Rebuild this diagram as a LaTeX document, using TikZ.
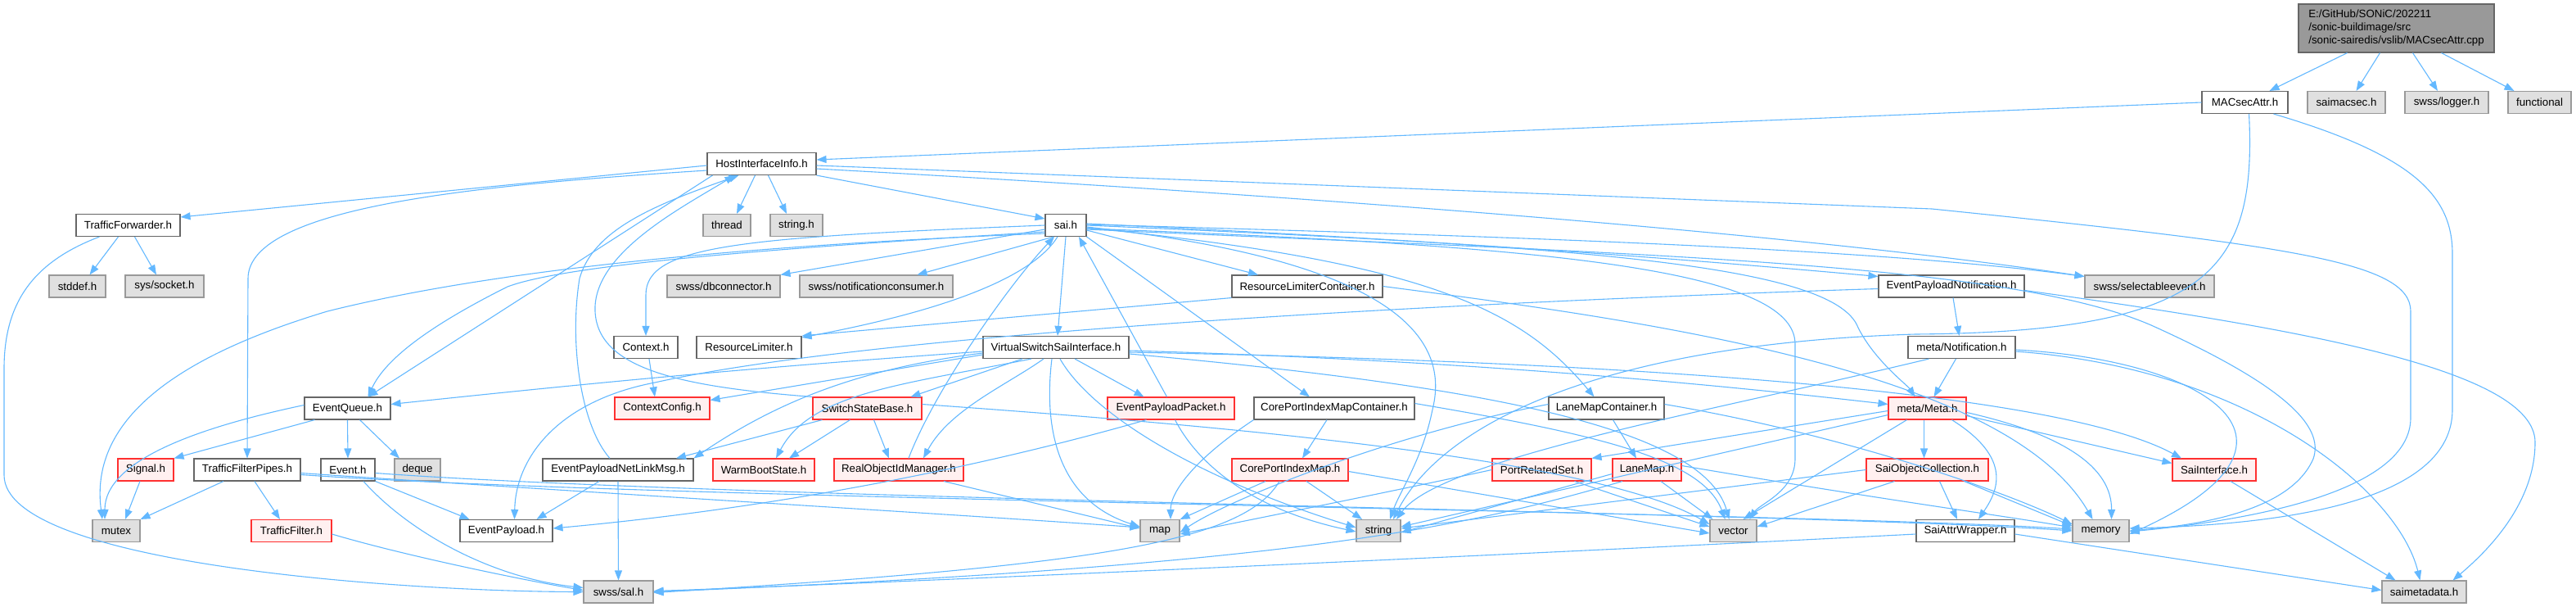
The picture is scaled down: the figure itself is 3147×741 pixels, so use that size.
\documentclass[tikz,border=0pt]{standalone}
\usepackage{fontspec}
\setmainfont{Liberation Sans}
\usetikzlibrary{arrows.meta}
\definecolor{edgec}{HTML}{63B8FF}
\definecolor{redb}{HTML}{FF3030}
\definecolor{redf}{HTML}{FFF0F0}
\definecolor{grayf}{HTML}{E0E0E0}
\definecolor{grayb}{HTML}{999999}
\definecolor{mainf}{HTML}{999999}
\definecolor{docb}{HTML}{666666}
\tikzset{
  base/.style={rectangle, inner sep=0pt, minimum height=27pt, font=\fontsize{13.3}{16}\selectfont, line width=1.1pt},
  doc/.style={base, draw=docb, fill=white},
  trunc/.style={base, draw=redb, fill=redf},
  sys/.style={base, draw=grayb, fill=grayf},
  mainn/.style={base, draw=docb, fill=mainf, align=left, minimum height=59pt},
  dep/.style={draw=edgec, line width=1.1pt, -{Triangle[length=12pt,width=9pt]}},
}
\begin{document}
\begin{tikzpicture}[x=1pt,y=-1pt]
\useasboundingbox (0,0) rectangle (3147,741);
% ---------- nodes ----------
\node[mainn, minimum width=239pt] (M) at (2927.5,34.5) {E:/GitHub/SONiC/202211\\/sonic-buildimage/src\\/sonic-sairedis/vslib/MACsecAttr.cpp};
\node[doc, minimum width=105pt] (MA) at (2742.5,125) {MACsecAttr.h};
\node[sys, minimum width=95pt] (SM) at (2866.5,125) {saimacsec.h};
\node[sys, minimum width=102pt] (LG) at (2989,125) {swss/logger.h};
\node[sys, minimum width=77pt] (FN) at (3102.5,125) {functional};
\node[doc, minimum width=133pt] (HI) at (930.5,200) {HostInterfaceInfo.h};
\node[doc, minimum width=127pt] (TF) at (156.5,275) {TrafficForwarder.h};
\node[sys, minimum width=58pt] (TH) at (888,275) {thread};
\node[sys, minimum width=64pt] (SH) at (973,275) {string.h};
\node[doc, minimum width=50pt] (SAI) at (1302,275) {sai.h};
\node[sys, minimum width=69pt] (SD) at (94.5,349.5) {stddef.h};
\node[sys, minimum width=96pt] (SS) at (201,349.5) {sys/socket.h};
\node[sys, minimum width=138pt] (DB) at (884,349.5) {swss/dbconnector.h};
\node[sys, minimum width=187pt] (NC) at (1070.5,349.5) {swss/notificationconsumer.h};
\node[doc, minimum width=184pt] (RLC) at (1597,349.5) {ResourceLimiterContainer.h};
\node[doc, minimum width=178pt] (EPN) at (2384,349.5) {EventPayloadNotification.h};
\node[sys, minimum width=158pt] (SE) at (2626,349.5) {swss/selectableevent.h};
\node[doc, minimum width=78pt] (CX) at (789,424) {Context.h};
\node[doc, minimum width=128pt] (RL) at (915,424) {ResourceLimiter.h};
\node[doc, minimum width=178pt] (VS) at (1290,424) {VirtualSwitchSaiInterface.h};
\node[doc, minimum width=131pt] (MN) at (2396.5,424) {meta/Notification.h};
\node[doc, minimum width=105pt] (EQ) at (424.5,498.5) {EventQueue.h};
\node[trunc, minimum width=116pt] (CC) at (809,498.5) {ContextConfig.h};
\node[trunc, minimum width=133pt] (SSB) at (1059.5,498.5) {SwitchStateBase.h};
\node[trunc, minimum width=155pt] (EPP) at (1430.5,498.5) {EventPayloadPacket.h};
\node[doc, minimum width=196pt] (CPC) at (1630,498.5) {CorePortIndexMapContainer.h};
\node[doc, minimum width=141pt] (LMC) at (1962.5,498.5) {LaneMapContainer.h};
\node[trunc, minimum width=95pt] (MM) at (2354.5,498.5) {meta/Meta.h};
\node[trunc, minimum width=68pt] (SG) at (178,573.5) {Signal.h};
\node[doc, minimum width=130pt] (TFP) at (302,573.5) {TrafficFilterPipes.h};
\node[doc, minimum width=66pt] (EV) at (425,573.5) {Event.h};
\node[sys, minimum width=56pt] (DQ) at (510,573.5) {deque};
\node[doc, minimum width=184pt] (EPNL) at (755,573.5) {EventPayloadNetLinkMsg.h};
\node[trunc, minimum width=124pt] (WB) at (933,573.5) {WarmBootState.h};
\node[trunc, minimum width=158pt] (ROM) at (1098,573.5) {RealObjectIdManager.h};
\node[trunc, minimum width=142pt] (CPM) at (1576,573.5) {CorePortIndexMap.h};
\node[trunc, minimum width=121pt] (PRS) at (1883.5,573.5) {PortRelatedSet.h};
\node[trunc, minimum width=84pt] (LM) at (2012,573.5) {LaneMap.h};
\node[trunc, minimum width=149pt] (SOC) at (2354.5,573.5) {SaiObjectCollection.h};
\node[trunc, minimum width=102pt] (SI) at (2705,573.5) {SaiInterface.h};
\node[sys, minimum width=58pt] (MX) at (142,648) {mutex};
\node[trunc, minimum width=98pt] (TFL) at (356,648) {TrafficFilter.h};
\node[doc, minimum width=113pt] (EP) at (618.5,648) {EventPayload.h};
\node[sys, minimum width=48pt] (MAP) at (1417,648) {map};
\node[sys, minimum width=54pt] (STR) at (1684,648) {string};
\node[sys, minimum width=57pt] (VEC) at (2117.5,648) {vector};
\node[doc, minimum width=120pt] (SAW) at (2401,648) {SaiAttrWrapper.h};
\node[sys, minimum width=69pt] (MEM) at (2566.5,648) {memory};
\node[sys, minimum width=85pt] (SAL) at (755.5,722.5) {swss/sal.h};
\node[sys, minimum width=103pt] (SMD) at (2961.5,722.5) {saimetadata.h};
% ---------- edges ----------
\draw[dep] ([xshift=-60pt]M.south) -- ([xshift=30pt]MA.north);
\draw[dep] ([xshift=-20pt]M.south) -- ([xshift=12pt]SM.north);
\draw[dep] ([xshift=20pt]M.south) -- ([xshift=-11pt]LG.north);
\draw[dep] ([xshift=55pt]M.south) -- ([xshift=-31pt]FN.north);
% MACsecAttr.h
\draw[dep] (MA.west) -- ([yshift=5pt]HI.east);
\draw[dep] ([xshift=5pt]MA.south) .. controls (2757,330) and (2700,405) .. (2340,408) .. controls (1950,420) and (1760,520) .. ([xshift=18pt]STR.north);
\draw[dep] ([xshift=35pt]MA.south) .. controls (2950,190) and (2996,240) .. (2996,310) -- (2996,500) .. controls (2996,610) and (2800,640) .. ([yshift=3pt]MEM.east);
% HostInterfaceInfo.h
\draw[dep] ([yshift=-2pt]HI.west) -- ([yshift=10pt]TF.east);
\draw[dep] ([yshift=-8pt]HI.west) .. controls (600,225) and (303,250) .. (303,340) -- (TFP.north);
\draw[dep] ([xshift=-8pt]HI.south) -- ([xshift=12pt]TH.north);
\draw[dep] ([xshift=8pt]HI.south) -- ([xshift=-12pt]SH.north);
\draw[dep] (HI.south east) -- ([yshift=8pt]SAI.west);
\draw[dep] ([yshift=-2pt]HI.east) -- (2360,255) .. controls (2800,300) and (2945,320) .. (2945,380) -- (2945,510) .. controls (2945,600) and (2750,635) .. ([yshift=-1pt]MEM.east);
\draw[dep] ([yshift=-6pt]HI.east) .. controls (1800,250) and (2300,300) .. ([yshift=12pt]SE.west);
\draw[dep] ([xshift=-60pt]HI.south) -- ([xshift=25pt]EQ.north);
% includes of HostInterfaceInfo.h from below
\draw[dep] (SSB.north west) .. controls (830,472) and (730,450) .. (727,380) .. controls (724,310) and (830,255) .. ([xshift=-33pt]HI.south);
\draw[dep] ([xshift=-10pt]EPNL.north) .. controls (710,520) and (695,420) .. (708,340) .. controls (725,280) and (800,250) .. ([xshift=-28pt]HI.south);
% TrafficForwarder.h
\draw[dep] ([xshift=-12pt]TF.south) -- ([xshift=15pt]SD.north);
\draw[dep] ([xshift=8pt]TF.south) -- ([xshift=-10pt]SS.north);
\draw[dep] ([xshift=-35pt]TF.south) .. controls (40,320) and (5,370) .. (5,450) -- (5,580) .. controls (5,690) and (500,722) .. (SAL.west);
% sai.h
\draw[dep] ([yshift=-5pt]SAI.west) -- (DB.north east);
\draw[dep] ([xshift=-15pt]SAI.south) -- ([xshift=50pt]NC.north);
\draw[dep] (SAI.west) .. controls (900,290) and (789,300) .. (789,360) -- (CX.north);
\draw[dep] ([xshift=-10pt]SAI.south) .. controls (1260,340) and (1150,380) .. ([yshift=12pt]RL.east);
\draw[dep] (SAI.south) -- ([xshift=2pt]VS.north);
\draw[dep] ([yshift=-6pt]SAI.east) -- ([xshift=-60pt]RLC.north);
\draw[dep] ([yshift=2pt]SAI.east) .. controls (1800,295) and (2100,320) .. ([yshift=12pt]EPN.west);
\draw[dep] ([yshift=1pt]SAI.east) .. controls (1900,290) and (2300,305) .. ([yshift=12pt]SE.west);
\draw[dep] (SAI.east) .. controls (1900,300) and (2240,320) .. (2270,400) .. controls (2290,440) and (2330,470) .. ([xshift=-15pt]MM.north);
\draw[dep] ([yshift=-3pt]SAI.east) .. controls (1750,320) and (1860,380) .. ([xshift=-15pt]LMC.north);
\draw[dep] ([yshift=-2pt]SAI.east) .. controls (1720,320) and (1770,420) .. (1750,500) .. controls (1738,560) and (1710,600) .. ([xshift=14pt]STR.north);
\draw[dep] (SAI.south east) -- ([xshift=-30pt]CPC.north);
\draw[dep] ([yshift=-4pt]SAI.east) .. controls (1900,300) and (2193,330) .. (2193,420) -- (2193,560) .. controls (2193,600) and (2150,615) .. ([xshift=20pt]VEC.north);
\draw[dep] ([yshift=-5pt]SAI.east) .. controls (2000,310) and (2450,320) .. (2628,397) .. controls (2790,470) and (2840,520) .. (2826,560) .. controls (2800,620) and (2700,640) .. (MEM.east);
\draw[dep] ([yshift=-8pt]SAI.west) .. controls (1000,300) and (700,320) .. (620,350) .. controls (520,400) and (470,440) .. ([xshift=25pt]EQ.north);
\draw[dep] ([yshift=-10pt]SAI.west) .. controls (900,300) and (600,330) .. (400,380) .. controls (200,440) and (110,520) .. ([xshift=-17pt]MX.north);
% VirtualSwitchSaiInterface.h
\draw[dep] ([yshift=-9pt]VS.west) -- ([yshift=10pt]CC.east);
\draw[dep] ([xshift=-41pt]VS.south) -- ([xshift=53pt]SSB.north);
\draw[dep] ([xshift=23pt]VS.south) -- ([xshift=-33pt]EPP.north);
\draw[dep] ([xshift=-15pt]VS.south) .. controls (1230,470) and (1160,500) .. ([xshift=30pt]ROM.north);
\draw[dep] ([xshift=-5pt]VS.south) .. controls (1275,520) and (1290,610) .. ([yshift=5pt]MAP.west);
\draw[dep] ([xshift=5pt]VS.south) .. controls (1330,500) and (1450,580) .. ([yshift=4pt]STR.west);
\draw[dep] ([yshift=-5pt]VS.west) .. controls (900,450) and (700,470) .. ([yshift=5pt]EQ.east);
\draw[dep] ([yshift=-7pt]VS.west) .. controls (1050,450) and (950,490) .. (EPNL.north east);
\draw[dep] ([xshift=-30pt]VS.south) .. controls (1100,470) and (990,480) .. ([xshift=15pt]WB.north);
\draw[dep] ([yshift=-4pt]VS.east) .. controls (1800,440) and (2100,470) .. ([yshift=5pt]MM.west);
\draw[dep] ([yshift=-6pt]VS.east) .. controls (1900,440) and (2500,470) .. ([xshift=-40pt]SI.north);
\draw[dep] ([yshift=-8pt]VS.east) .. controls (1800,470) and (2080,520) .. ([xshift=-5pt]VEC.north);
% ResourceLimiterContainer.h
\draw[dep] (RLC.south west) -- (RL.north east);
\draw[dep] (RLC.east) .. controls (2000,390) and (2450,450) .. ([xshift=-10pt]MEM.north);
% Context.h
\draw[dep] ([xshift=4pt]CX.south) -- ([xshift=-9pt]CC.north);
% EventPayloadNotification.h
\draw[dep] ([xshift=2pt]EPN.south) -- ([xshift=-3pt]MN.north);
\draw[dep] ([yshift=-5pt]EPN.east) .. controls (2800,400) and (3097,450) .. (3097,540) .. controls (3097,620) and (3030,680) .. ([xshift=35pt]SMD.north);
\draw[dep] ([yshift=-3pt]EPN.west) .. controls (1900,365) and (1100,400) .. (800,467) .. controls (680,490) and (630,560) .. ([xshift=10pt]EP.north);
% meta/Notification.h
\draw[dep] ([xshift=-7pt]MN.south) -- ([xshift=8pt]MM.north);
\draw[dep] ([xshift=-40pt]MN.south) .. controls (2100,500) and (1760,560) .. ([xshift=22pt]STR.north);
\draw[dep] ([yshift=-3pt]MN.east) .. controls (2700,440) and (2850,540) .. ([yshift=-4pt]MEM.east);
\draw[dep] ([yshift=-5pt]MN.east) .. controls (2750,450) and (2930,600) .. ([xshift=-5pt]SMD.north);
% meta/Meta.h
\draw[dep] ([yshift=-3pt]MM.west) -- (PRS.north east);
\draw[dep] ([xshift=-4pt]MM.south) -- ([xshift=-4pt]SOC.north);
\draw[dep] ([xshift=30pt]MM.south) .. controls (2460,560) and (2440,600) .. ([xshift=16pt]SAW.north);
\draw[dep] ([yshift=-5pt]MM.east) .. controls (2520,530) and (2580,570) .. ([xshift=13pt]MEM.north);
\draw[dep] ([yshift=-9pt]MM.east) -- ([yshift=8pt]SI.west);
\draw[dep] ([xshift=-25pt]MM.south) -- ([xshift=12pt]VEC.north);
\draw[dep] ([yshift=-8pt]MM.west) -- ([yshift=5pt]STR.east);
% SaiObjectCollection.h
\draw[dep] ([xshift=15pt]SOC.south) -- ([xshift=-10pt]SAW.north);
\draw[dep] ([xshift=45pt]SOC.south) -- ([yshift=6pt]MEM.west);
\draw[dep] ([xshift=-40pt]SOC.south) -- ([yshift=5pt]VEC.east);
\draw[dep] (SOC.west) -- ([yshift=3pt]STR.east);
% SaiInterface.h, SaiAttrWrapper.h
\draw[dep] ([xshift=20pt]SI.south) -- ([xshift=-35pt]SMD.north);
\draw[dep] ([yshift=-4pt]SAW.east) -- ([yshift=2pt]SMD.west);
\draw[dep] ([yshift=-4pt]SAW.west) .. controls (1800,680) and (1000,715) .. ([yshift=1pt]SAL.east);
% LaneMapContainer.h, LaneMap.h
\draw[dep] ([xshift=8pt]LMC.south) -- ([xshift=-13pt]LM.north);
\draw[dep] ([yshift=5pt]LMC.west) .. controls (1700,530) and (1500,610) .. ([yshift=-2pt]MAP.east);
\draw[dep] ([yshift=5pt]LMC.east) .. controls (2250,530) and (2450,600) .. ([yshift=8pt]MEM.west);
\draw[dep] ([yshift=-5pt]LM.west) -- ([yshift=-2pt]STR.east);
\draw[dep] ([xshift=17pt]LM.south) -- ([xshift=-25pt]VEC.north);
\draw[dep] ([yshift=5pt]LM.east) .. controls (2300,610) and (2450,630) .. ([yshift=4pt]MEM.west);
\draw[dep] ([xshift=-30pt]LM.south) .. controls (1800,640) and (1600,690) .. (SAL.east);
% PortRelatedSet.h
\draw[dep] ([xshift=40pt]PRS.south) -- ([yshift=5pt]VEC.west);
\draw[dep] (PRS.west) .. controls (1700,600) and (1550,630) .. ([yshift=-4pt]MAP.east);
% CorePortIndexMapContainer.h, CorePortIndexMap.h
\draw[dep] ([xshift=-9pt]CPC.south) -- ([xshift=15pt]CPM.north);
\draw[dep] (CPC.south west) .. controls (1460,560) and (1430,600) .. ([xshift=13pt]MAP.north);
\draw[dep] ([yshift=6pt]CPC.east) .. controls (1950,530) and (2080,560) .. ([xshift=-10pt]VEC.north);
\draw[dep] ([xshift=20pt]CPM.south) -- ([xshift=-20pt]STR.north);
\draw[dep] ([xshift=-30pt]CPM.south) -- (MAP.north east);
\draw[dep] ([yshift=-2pt]CPM.east) -- ([yshift=-3pt]VEC.west);
\draw[dep] ([xshift=-13pt]CPM.south) .. controls (1520,660) and (1350,690) .. ([yshift=-1pt]SAL.east);
% EventPayloadPacket.h
\draw[dep] ([xshift=-5pt]EPP.north) -- ([xshift=16pt]SAI.south);
\draw[dep] ([xshift=-30pt]EPP.south) .. controls (1200,570) and (950,620) .. ([yshift=3pt]EP.east);
\draw[dep] ([xshift=5pt]EPP.south) .. controls (1460,560) and (1520,620) .. ([yshift=-1pt]STR.west);
% RealObjectIdManager.h
\draw[dep] ([xshift=12pt]ROM.north) .. controls (1140,480) and (1230,350) .. ([xshift=-14pt]SAI.south);
\draw[dep] ([xshift=55pt]ROM.south) -- ([yshift=3pt]MAP.west);
% SwitchStateBase.h
\draw[dep] ([xshift=-21pt]SSB.south) -- ([xshift=31pt]WB.north);
\draw[dep] ([xshift=8pt]SSB.south) -- ([xshift=-12pt]ROM.north);
\draw[dep] ([xshift=-55pt]SSB.south) -- ([xshift=71pt]EPNL.north);
\draw[dep] ([yshift=5pt]SSB.east) .. controls (1500,520) and (1950,560) .. ([yshift=8pt]VEC.west);
% EventQueue.h and below
\draw[dep] ([xshift=-40pt]EQ.south) -- (SG.north east);
\draw[dep] (EQ.south) -- (EV.north);
\draw[dep] ([xshift=15pt]EQ.south) -- ([xshift=-22pt]DQ.north);
\draw[dep] ([yshift=4pt]EQ.west) .. controls (250,520) and (128,560) .. ([xshift=-14pt]MX.north);
\draw[dep] ([xshift=-7pt]SG.south) -- ([xshift=11pt]MX.north);
\draw[dep] ([xshift=-29pt]TFP.south) -- (MX.north east);
\draw[dep] ([xshift=9pt]TFP.south) -- ([xshift=-14pt]TFL.north);
\draw[dep] ([yshift=-4pt]TFP.east) .. controls (700,600) and (1200,630) .. ([yshift=4pt]MAP.west);
\draw[dep] ([yshift=-6pt]TFP.east) .. controls (800,610) and (2200,625) .. ([yshift=2pt]MEM.west);
\draw[dep] (EV.south east) -- ([xshift=-45pt]EP.north);
\draw[dep] ([xshift=19pt]EV.south) .. controls (500,650) and (600,705) .. ([yshift=5pt]SAL.west);
\draw[dep] ([yshift=-4pt]EV.east) .. controls (900,610) and (2200,625) .. (MEM.west);
\draw[dep] ([yshift=-4pt]TFL.east) .. controls (500,680) and (650,710) .. ([yshift=2pt]SAL.west);
\draw[dep] ([xshift=-23pt]EPNL.south) -- ([xshift=37pt]EP.north);
\draw[dep] (EPNL.south) -- (SAL.north);
\end{tikzpicture}
\end{document}
